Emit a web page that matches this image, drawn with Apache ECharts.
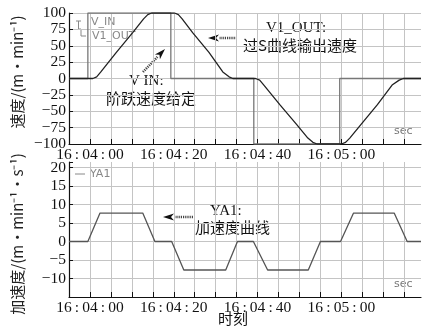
<!DOCTYPE html>
<html><head><meta charset="utf-8">
<script src="https://cdn.jsdelivr.net/npm/echarts@6/dist/echarts.min.js"></script>
<style>html,body{margin:0;padding:0;background:#fff}#c{width:422px;height:328px}</style>
</head><body><div id="c"></div>
<script>
// time in seconds relative to 16:04:00
const vinTimes = [-5, -0.5, -0.5, 19.3, 19.3, 39.1, 39.1, 59.6, 59.6, 79];
const vinValues = [0, 0, 100, 100, 0, 0, -100, -100, 0, 0];

const voutTimes = [-5, 0.7, 1.6, 2.6, 6.3, 10.2, 12.8, 13.8, 14.7,
  20.2, 21.1, 22.0, 24.5, 28.4, 31.7, 33.2, 34.1,
  39.5, 40.5, 41.5, 45.3, 49.3, 52.0, 53.2, 54.2,
  60.0, 61.0, 62.0, 64.7, 68.6, 72.1, 73.8, 74.8, 79];
const voutValues = [0, 0, 2.5, 10, 40, 70, 91, 97.5, 100,
  100, 97.5, 91, 70, 40, 10, 2.5, 0,
  0, -2.5, -10, -40, -70, -91, -97.5, -100,
  -100, -97.5, -91, -70, -40, -10, -2.5, 0, 0];

const accTimes = [-5, -0.5, 2.4, 12.6, 15.5, 19.5, 22.4, 32.4, 35.2, 39, 42.4, 52.1, 55, 59.8, 62.9, 72.6, 75.7, 79];
const accValues = [0, 0, 7.7, 7.7, 0, 0, -7.7, -7.7, 0, 0, -7.7, -7.7, 0, 0, 7.7, 7.7, 0, 0];

const xLabelTimes = ['16:04:00', '16:04:20', '16:04:40', '16:05:00'];
const vTicks = [-100, -75, -50, -25, 0, 25, 50, 75, 100];
const aTicks = [-10, -5, 0, 5, 10, 15, 20];

const base = new Date(2020, 0, 1, 16, 4, 0).getTime();
const T = s => base + s * 1000;
const pair = (ts, vs) => ts.map((t, i) => [T(t), vs[i]]);
const pad = n => (n < 10 ? '0' : '') + n;
const fmtTime = v => { const d = new Date(v); return d.getHours() + ':' + pad(d.getMinutes()) + ':' + pad(d.getSeconds()); };

const SERIF = "'Liberation Serif', 'Noto Sans CJK SC', serif";
const CJK = "'Noto Sans CJK SC', 'Liberation Serif', serif";
const gridColor = '#c4c4c4';

function xAxis(gi) {
  return {
    type: 'time', gridIndex: gi, min: T(-5), max: T(79), minInterval: 10000, maxInterval: 10000,
    axisLine: { onZero: false, lineStyle: { color: '#111', width: 1.2 } },
    axisTick: { inside: true, length: 5, lineStyle: { color: '#111' } },
    splitLine: { show: true, showMinLine: false, showMaxLine: false, lineStyle: { color: gridColor, width: 1 } },
    axisLabel: {
      margin: 3, color: '#111', fontFamily: SERIF, fontSize: 15.5, fontWeight: 'normal', hideOverlap: false,
      formatter: v => { const s = fmtTime(v); return xLabelTimes.indexOf(s) >= 0 ? s.split(':').join('\u2009:\u2009') : ''; },
      rich: {}
    }
  };
}
function yAxis(gi, min, max, interval, ticks, showMax) {
  return {
    type: 'value', gridIndex: gi, min, max, interval,
    axisLine: { show: true, lineStyle: { color: '#111', width: 1.2 } },
    axisTick: { show: true, inside: true, length: 4, lineStyle: { color: '#111' } },
    splitLine: { show: true, showMinLine: false, showMaxLine: showMax, lineStyle: { color: gridColor, width: 1 } },
    axisLabel: {
      margin: 3, color: '#111', fontFamily: SERIF, fontSize: 15.5, showMinLabel: true, showMaxLabel: true,
      formatter: v => ticks.indexOf(v) >= 0 ? String(v).replace('-', '\u2212') : ''
    }
  };
}

function arrow(x1, y1, x2, y2) {
  const dx = x2 - x1, dy = y2 - y1, L = Math.hypot(dx, dy);
  const ux = dx / L, uy = dy / L, px = -uy, py = ux;
  const hl = 11, hw = 3.5;
  const bx = x2 - ux * hl, by = y2 - uy * hl;
  return [
    { type: 'line', shape: { x1: x1, y1: y1, x2: bx, y2: by }, style: { stroke: '#444', lineWidth: 2.5, lineDash: [1.2, 1] } },
    { type: 'polygon', shape: { points: [[x2, y2], [bx + px * hw, by + py * hw], [bx + ux * 3, by + uy * 3], [bx - px * hw, by - py * hw]] }, style: { fill: '#111' } }
  ];
}

const txt = (x, y, text, opts) => Object.assign({ type: 'text', x, y, style: Object.assign({ text, fill: '#111', font: '15px ' + SERIF, align: 'left', verticalAlign: 'middle' }, opts || {}) });

const chart = echarts.init(document.getElementById('c'), null, { renderer: 'canvas' });
chart.setOption({
  backgroundColor: '#fff',
  animation: false,
  grid: [
    { left: 69, right: 1, top: 13, height: 131 },
    { left: 69, right: 1, top: 162, height: 135 }
  ],
  xAxis: [xAxis(0), xAxis(1)],
  yAxis: [yAxis(0, -100, 100, 25, vTicks, true), yAxis(1, -15, 21.5, 5, aTicks, false)],
  series: [
    { name: 'V_IN', type: 'line', xAxisIndex: 0, yAxisIndex: 0, data: pair(vinTimes, vinValues), showSymbol: false, lineStyle: { color: '#777', width: 1.3 }, z: 2 },
    { name: 'V1_OUT', type: 'line', xAxisIndex: 0, yAxisIndex: 0, data: pair(voutTimes, voutValues), showSymbol: false, lineStyle: { color: '#222', width: 1.3 }, z: 3 },
    { name: 'YA1', type: 'line', xAxisIndex: 1, yAxisIndex: 1, data: pair(accTimes, accValues), showSymbol: false, lineStyle: { color: '#555', width: 1.3 }, z: 3 }
  ],
  graphic: [
    // y-axis titles
    { type: 'text', x: 17, y: 72, rotation: Math.PI / 2, style: { text: '速度/(m·min\u207B\u00B9)', font: '15px ' + CJK, fill: '#222', align: 'center', verticalAlign: 'middle' } },
    { type: 'text', x: 17, y: 234, rotation: Math.PI / 2, style: { text: '加速度/(m·min\u207B\u00B9·s\u207B\u00B9)', font: '15px ' + CJK, fill: '#222', align: 'center', verticalAlign: 'middle' } },
    txt(233, 318, '时刻', { font: '15px ' + CJK, align: 'center' }),
    // legend top
    { type: 'polyline', shape: { points: [[76, 21], [81, 21]] }, style: { stroke: '#888', lineWidth: 1 } },
    { type: 'polyline', shape: { points: [[78.5, 21], [78.5, 29], [81, 29], [81, 36], [86, 36]] }, style: { stroke: '#888', lineWidth: 1, fill: null } },
    txt(91, 22, 'V_IN', { font: '11px "DejaVu Sans", sans-serif', fill: '#888' }),
    txt(92, 36, 'V1_OUT', { font: '11px "DejaVu Sans", sans-serif', fill: '#888' }),
    // legend bottom
    { type: 'line', shape: { x1: 75, y1: 174, x2: 85, y2: 174 }, style: { stroke: '#888', lineWidth: 1 } },
    txt(90, 174, 'YA1', { font: '11px "DejaVu Sans", sans-serif', fill: '#888' }),
    // sec labels
    txt(394, 131, 'sec', { font: '11px "DejaVu Sans", sans-serif', fill: '#777' }),
    txt(394, 284, 'sec', { font: '11px "DejaVu Sans", sans-serif', fill: '#777' }),
    // annotations
    txt(266, 28, 'V1_OUT:'),
    txt(243, 45, '过S曲线输出速度', { font: '15px ' + CJK }),
    ...arrow(237, 38, 208, 38),
    txt(129, 81, 'V IN:'),
    txt(106, 98, '阶跃速度给定', { font: '15px ' + CJK }),
    ...arrow(143, 72, 165, 49),
    txt(210, 211, 'YA1:'),
    txt(195, 227, '加速度曲线', { font: '15px ' + CJK }),
    ...arrow(193, 217, 163, 217)
  ]
});
</script></body></html>
